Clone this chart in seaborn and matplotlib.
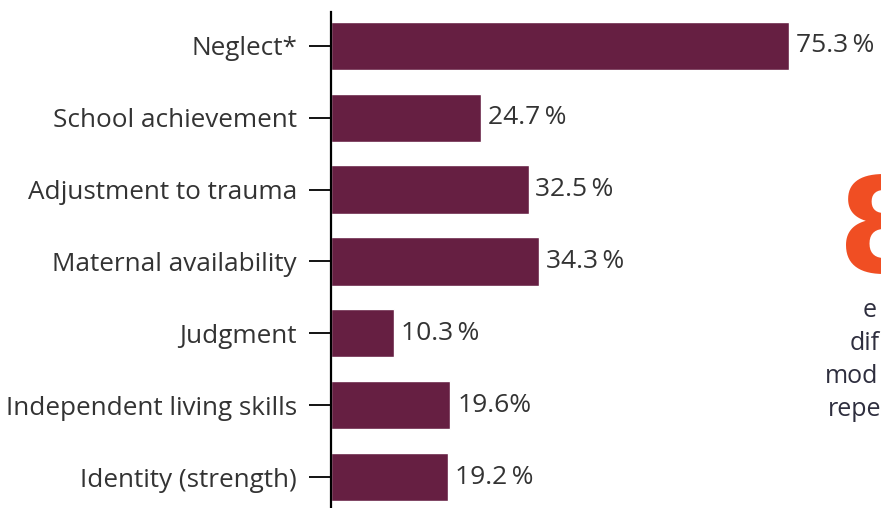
import matplotlib
matplotlib.use("Agg")
import matplotlib.pyplot as plt
import seaborn as sns
import pandas as pd

# data
categories = ["Neglect*", "School achievement", "Adjustment to trauma",
              "Maternal availability", "Judgment", "Independent living skills",
              "Identity (strength)"]
values = [75.3, 24.7, 32.5, 34.3, 10.3, 19.6, 19.2]
value_labels = ["75.3\u2009%", "24.7\u2009%", "32.5\u2009%", "34.3\u2009%",
                "10.3\u2009%", "19.6%", "19.2\u2009%"]
side_fragments = ["e", "dif", "mod", "repe"]

bar_color = "#661f42"
text_color = "#333333"

sns.set_style("white")
plt.rcParams["font.family"] = ["Open Sans", "DejaVu Sans"]

df = pd.DataFrame({"category": categories, "value": values})

fig = plt.figure(figsize=(8.81, 5.08), dpi=100)
ax = fig.add_axes([331 / 881, 0.0, 547 / 881, 496 / 508])

sns.barplot(data=df, x="value", y="category", color=bar_color,
            saturation=1, width=0.67, ax=ax)

ax.set_xlim(0, 90)
ax.set_ylim(6.43, -0.47)
ax.set_xlabel("")
ax.set_ylabel("")
ax.set_xticks([])

for s in ["top", "right", "bottom"]:
    ax.spines[s].set_visible(False)
ax.spines["left"].set_color("black")
ax.spines["left"].set_linewidth(1.6)
ax.tick_params(axis="y", length=16, width=1.3, color="black", pad=8.5,
               labelsize=18.8, labelcolor=text_color, left=True)

ax.bar_label(ax.containers[0], labels=value_labels, padding=5,
             fontsize=19, color=text_color)

# cropped sidebar on the right edge
fig.text(838 / 881, 1 - 272 / 508, "8", fontsize=95, fontweight="bold",
         color="#f04e23", ha="left", va="baseline",
         family=["Liberation Sans Narrow", "DejaVu Sans"])
frag_x = [863, 850, 825, 828]
frag_y = [317, 350, 383, 416]
for t, x, y in zip(side_fragments, frag_x, frag_y):
    fig.text(x / 881, 1 - y / 508, t, fontsize=18, color="#2e2e3e",
             ha="left", va="baseline")

fig.savefig("out.png", dpi=100)
